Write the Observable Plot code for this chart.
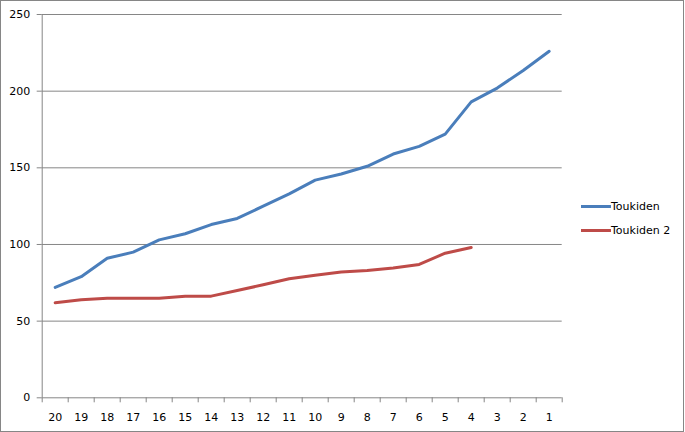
<!DOCTYPE html>
<html>
<head>
<meta charset="utf-8">
<script src="https://cdn.jsdelivr.net/npm/d3@7"></script>
<script src="https://cdn.jsdelivr.net/npm/@observablehq/plot@0.6"></script>
<style>
  html, body { margin: 0; padding: 0; background: #fff; }
  #chart { position: relative; width: 684px; height: 432px; box-sizing: border-box; border: 1px solid #868686; overflow: hidden; font-family: "DejaVu Sans", sans-serif; }
  #chart svg { position: absolute; left: -1px; top: -1px; max-width: none !important; }
  .legend { position: absolute; left: 580px; font-size: 11px; color: #000; display: flex; align-items: center; }
  .legend .sw { width: 30px; height: 3px; margin-right: 0px; }
</style>
</head>
<body>
<div id="chart"></div>
<script>
const categories = [20, 19, 18, 17, 16, 15, 14, 13, 12, 11, 10, 9, 8, 7, 6, 5, 4, 3, 2, 1];
const toukiden = [72, 79, 91, 95, 103, 107, 113, 117, 125, 133, 142, 146, 151, 159, 164, 172, 193, 202, 213.5, 226];
const toukiden2 = [62, 64, 65, 65, 65, 66.3, 66.3, 70, 73.7, 77.6, 80, 82, 83, 84.6, 87, 94.3, 98];
const seriesNames = ["Toukiden", "Toukiden 2"];
const seriesColors = ["#4A7EBB", "#BE4B48"];
const yTicks = [0, 50, 100, 150, 200, 250];

const rows = [];
categories.forEach((c, i) => {
  if (toukiden[i] != null) rows.push({series: seriesNames[0], cat: c, value: toukiden[i]});
});
categories.forEach((c, i) => {
  if (toukiden2[i] != null) rows.push({series: seriesNames[1], cat: c, value: toukiden2[i]});
});

const xMax = d3.max(categories) + 0.5;
const xMin = d3.min(categories) - 0.5;
const boundaries = d3.range(xMin, xMax + 0.01, 1);
const gray = "#868686";

const plot = Plot.plot({
  width: 685,
  height: 432,
  marginLeft: 41.7,
  marginTop: 14,
  marginBottom: 34.7,
  marginRight: 123.3,
  style: {fontFamily: "DejaVu Sans, sans-serif", fontSize: "11px", background: "transparent", color: "#000", maxWidth: "none"},
  x: {type: "linear", domain: [xMax, xMin]},
  y: {domain: [0, 250]},
  color: {domain: seriesNames, range: seriesColors},
  marks: [
    Plot.ruleY(yTicks, {stroke: gray, strokeWidth: 1}),
    Plot.ruleX([xMax], {stroke: gray, strokeWidth: 1}),
    Plot.axisY({ticks: yTicks, tickSize: 5, tickPadding: 7, stroke: gray, fill: "#000", label: null}),
    Plot.axisX({ticks: boundaries, tickSize: 5, tickFormat: () => "", stroke: gray, label: null}),
    Plot.axisX({ticks: categories, tickSize: 0, tickPadding: 15, tickFormat: d => String(d), fill: "#000", label: null}),
    Plot.line(rows, {x: "cat", y: "value", z: "series", stroke: "series", strokeWidth: 3, strokeLinejoin: "round", strokeLinecap: "round"})
  ]
});

const chart = document.getElementById("chart");
chart.appendChild(plot);

const legendTops = [199, 223];
seriesNames.forEach((name, i) => {
  const item = document.createElement("div");
  item.className = "legend";
  item.style.top = legendTops[i] + "px";
  const sw = document.createElement("span");
  sw.className = "sw";
  sw.style.background = seriesColors[i];
  const label = document.createElement("span");
  label.textContent = name;
  item.appendChild(sw);
  item.appendChild(label);
  chart.appendChild(item);
});
</script>
</body>
</html>
